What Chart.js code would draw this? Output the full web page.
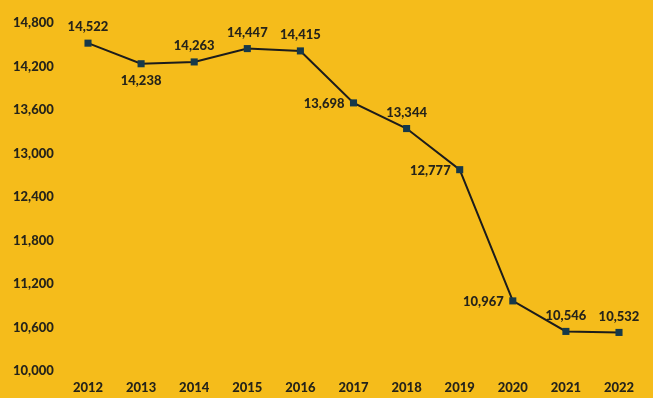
<!DOCTYPE html>
<html>
<head>
<meta charset="utf-8">
<script src="https://cdn.jsdelivr.net/npm/chart.js@4/dist/chart.umd.min.js"></script>
<style>
  html, body { margin: 0; padding: 0; background: #F5BC1B; }
  #wrap { width: 653px; height: 398px; position: relative; }
</style>
</head>
<body>
<div id="wrap"><canvas id="c" width="653" height="398"></canvas></div>
<script>
const years = ['2012','2013','2014','2015','2016','2017','2018','2019','2020','2021','2022'];
const values = [14522, 14238, 14263, 14447, 14415, 13698, 13344, 12777, 10967, 10546, 10532];
const yTicks = [10000, 10600, 11200, 11800, 12400, 13000, 13600, 14200, 14800];
const labelPlacement = ['top','bottom','top','top','top','left','top','left','left','top','top'];

const TEXT = '#26241a';
const FONT = { family: 'Lato, "Open Sans", sans-serif', size: 13, weight: '900' };

const valueLabels = {
  id: 'valueLabels',
  afterDatasetsDraw(chart) {
    const ctx = chart.ctx;
    const meta = chart.getDatasetMeta(0);
    ctx.save();
    ctx.font = `900 ${FONT.size}px ${FONT.family}`;
    ctx.fillStyle = TEXT;
    meta.data.forEach((pt, i) => {
      const txt = values[i].toLocaleString('en-US');
      const pos = labelPlacement[i];
      if (pos === 'top') {
        ctx.textAlign = 'center'; ctx.textBaseline = 'middle';
        ctx.fillText(txt, pt.x, pt.y - 16);
      } else if (pos === 'bottom') {
        ctx.textAlign = 'center'; ctx.textBaseline = 'middle';
        ctx.fillText(txt, pt.x, pt.y + 17);
      } else {
        ctx.textAlign = 'right'; ctx.textBaseline = 'middle';
        ctx.fillText(txt, pt.x - 9, pt.y + 1);
      }
    });
    ctx.restore();
  }
};

new Chart(document.getElementById('c'), {
  type: 'line',
  data: {
    labels: years,
    datasets: [{
      data: values,
      borderColor: '#1c1c1c',
      borderWidth: 2,
      pointStyle: 'rect',
      pointRadius: 5,
      pointBackgroundColor: '#16394a',
      pointBorderColor: '#16394a',
      pointBorderWidth: 0,
      tension: 0,
      fill: false
    }]
  },
  options: {
    responsive: false,
    animation: false,
    devicePixelRatio: 1,
    layout: { padding: { left: 13, right: 34, top: 23, bottom: 4 } },
    plugins: { legend: { display: false }, tooltip: { enabled: false } },
    scales: {
      x: {
        offset: false,
        grid: { display: false, drawTicks: false },
        border: { display: false },
        ticks: { color: TEXT, font: FONT, padding: 9, maxRotation: 0, autoSkip: false },
        afterFit(scale) { scale.height = 23; }
      },
      y: {
        min: 10000, max: 14800,
        grid: { display: false, drawTicks: false },
        border: { display: false },
        afterBuildTicks(scale) { scale.ticks = yTicks.map(v => ({ value: v })); },
        afterFit(scale) { scale.width = 75; },
        ticks: {
          color: TEXT, font: FONT, padding: 0, crossAlign: 'far',
          callback: v => Number(v).toLocaleString('en-US')
        }
      }
    }
  },
  plugins: [valueLabels, {
    id: 'bg',
    beforeDraw(chart) {
      const ctx = chart.ctx;
      ctx.save();
      ctx.fillStyle = '#F5BC1B';
      ctx.fillRect(0, 0, chart.width, chart.height);
      ctx.restore();
    }
  }]
});
</script>
</body>
</html>
